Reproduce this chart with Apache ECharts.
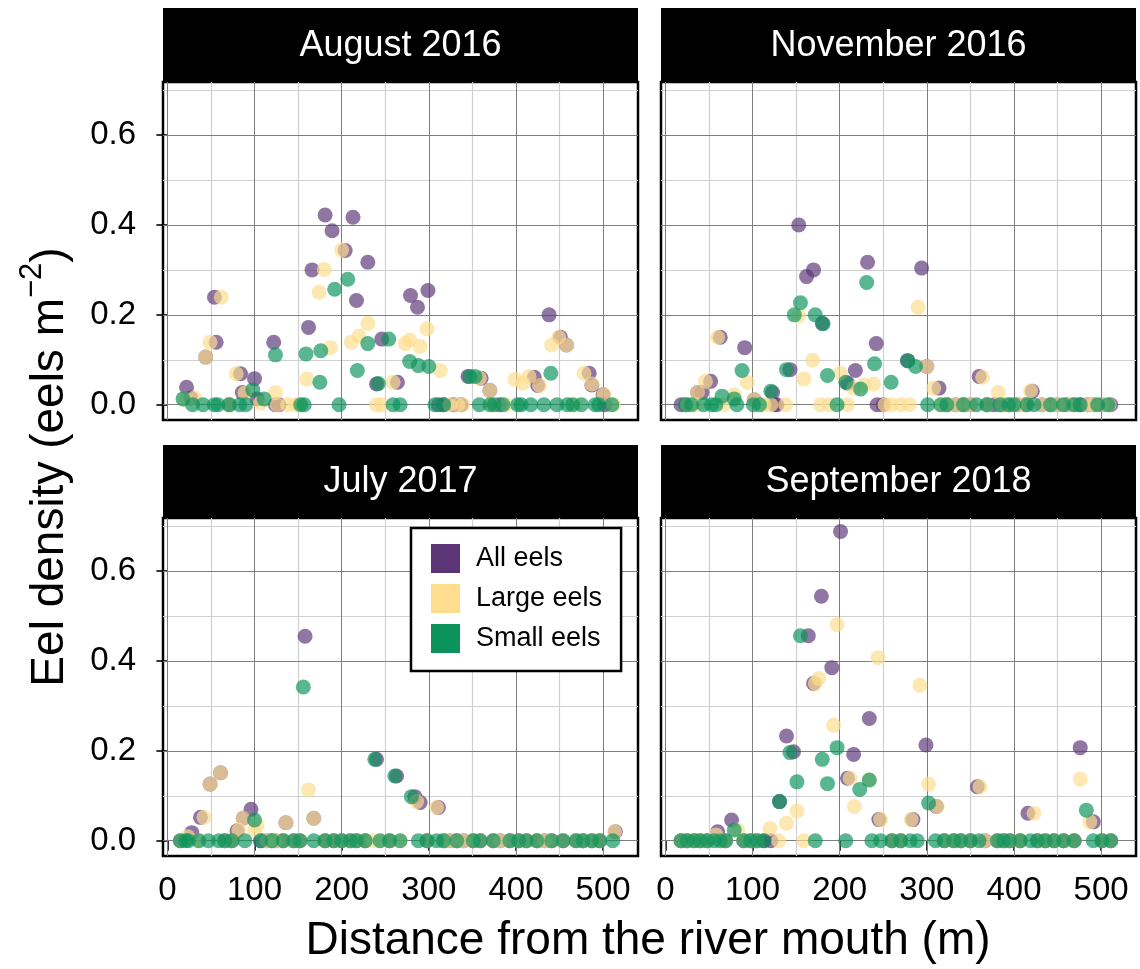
<!DOCTYPE html>
<html><head><meta charset="utf-8">
<script src="https://cdn.jsdelivr.net/npm/echarts@6/dist/echarts.min.js"></script>
<style>html,body{margin:0;padding:0;background:#fff}#c{width:1140px;height:969px}</style>
</head><body><div id="c"></div>
<script>
const panelTitles = ['August 2016', 'November 2016', 'July 2017', 'September 2018'];
const seriesNames = ['All eels', 'Large eels', 'Small eels'];
const xTicks = [0, 100, 200, 300, 400, 500];
const xMinorTicks = [50, 150, 250, 350, 450];
const yTicks = [0, 0.2, 0.4, 0.6];
const yTickLabels = ['0.0', '0.2', '0.4', '0.6'];
const yMinorTicks = [0.1, 0.3, 0.5, 0.7];
const xTitle = 'Distance from the river mouth (m)';

// [distance (m), density (eels m^-2)]
const aug16All = [[22,0.039],[27,0.015],[44,0.106],[54,0.239],[56,0.139],[71,0],[84,0.069],[86,0.027],[100,0.058],[103,0.013],[122,0.139],[124,0],[128,0],[162,0.172],[166,0.300],[181,0.422],[189,0.387],[204,0.343],[213,0.417],[217,0.232],[230,0.317],[240,0.046],[246,0.146],[264,0.050],[279,0.243],[287,0.217],[299,0.254],[311,0],[317,0],[328,0],[337,0],[345,0.063],[360,0.059],[370,0.032],[381,0],[421,0.061],[425,0.043],[438,0.200],[451,0.150],[458,0.133],[484,0.070],[487,0.044],[500,0.022],[502,0]];
const aug16Large = [[20,0.011],[31,0.015],[44,0.106],[49,0.139],[62,0.239],[71,0],[79,0.069],[89,0.026],[107,0.004],[124,0.027],[126,0],[138,0],[147,0],[151,0],[160,0.057],[174,0.250],[180,0.301],[187,0.127],[200,0.344],[211,0.139],[220,0.153],[230,0.181],[240,0],[246,0],[259,0.050],[273,0.136],[278,0.144],[290,0.130],[298,0.169],[313,0.076],[324,0],[333,0],[339,0],[358,0.059],[370,0.032],[373,0],[389,0],[399,0.056],[408,0.048],[415,0.063],[427,0.043],[441,0.133],[449,0.150],[458,0.133],[468,0],[478,0.070],[487,0.046],[501,0.022],[512,0]];
const aug16Small = [[18,0.013],[29,0],[41,0],[54,0],[58,0],[71,0],[83,0],[90,0],[98,0.033],[111,0.013],[124,0.111],[153,0],[157,0],[159,0.113],[175,0.050],[176,0.120],[192,0.257],[197,0],[207,0.279],[218,0.076],[230,0.136],[242,0.047],[254,0.146],[259,0],[267,0],[278,0.096],[288,0.087],[300,0.085],[307,0],[317,0],[347,0.063],[353,0.063],[358,0],[370,0],[375,0],[385,0],[402,0],[406,0],[417,0],[432,0],[440,0.070],[447,0],[459,0],[465,0],[475,0],[491,0],[495,0],[510,0]];

const nov16All = [[18,0],[24,0],[37,0.027],[42,0.027],[52,0.052],[63,0.150],[91,0.127],[102,0.011],[123,0.027],[125,0],[128,0],[143,0.078],[153,0.400],[162,0.285],[170,0.300],[180,0.181],[209,0.048],[218,0.076],[232,0.317],[242,0.136],[243,0],[250,0],[278,0.098],[294,0.304],[300,0.085],[314,0.037],[323,0],[333,0],[342,0],[350,0],[360,0.063],[369,0],[377,0],[386,0],[394,0],[404,0],[413,0],[421,0.030],[432,0],[442,0],[450,0],[461,0],[469,0],[476,0],[484,0],[491,0],[501,0],[511,0]];
const nov16Large = [[25,0],[36,0],[37,0.027],[46,0.052],[60,0.150],[67,0],[79,0.022],[94,0.050],[102,0.011],[113,0],[121,0],[138,0],[153,0.198],[159,0.057],[169,0.099],[178,0],[188,0],[201,0.070],[209,0],[216,0.037],[228,0.044],[239,0.046],[252,0],[259,0],[270,0],[280,0],[290,0.217],[300,0.085],[308,0.037],[316,0],[323,0],[333,0],[342,0],[350,0],[364,0.061],[369,0],[382,0.027],[386,0],[394,0],[404,0],[413,0],[419,0.031],[432,0],[442,0],[450,0],[461,0],[469,0],[484,0],[491,0],[501,0],[509,0]];
const nov16Small = [[23,0],[30,0],[44,0],[53,0],[58,0],[65,0.019],[79,0.013],[82,0],[88,0.076],[101,0],[108,0],[121,0.030],[139,0.078],[148,0.200],[155,0.227],[172,0.200],[181,0.180],[186,0.065],[197,0],[207,0.050],[224,0.035],[231,0.272],[240,0.091],[259,0.050],[278,0.098],[287,0.085],[301,0],[316,0],[323,0],[342,0],[357,0],[369,0],[384,0],[394,0],[400,0],[415,0],[423,0],[442,0],[457,0],[469,0],[476,0],[496,0],[508,0]];

const jul17All = [[15,0],[28,0.018],[38,0.052],[49,0.126],[61,0.151],[66,0],[74,0],[80,0.022],[87,0.050],[96,0.070],[107,0],[114,0],[120,0],[124,0],[133,0],[136,0.040],[145,0],[152,0],[158,0.455],[168,0.050],[181,0],[191,0],[200,0],[210,0],[217,0],[227,0],[240,0.181],[255,0],[263,0.144],[284,0.098],[290,0.085],[298,0],[311,0.074],[317,0],[324,0],[332,0],[340,0],[351,0],[359,0],[374,0],[382,0],[393,0],[403,0],[412,0],[424,0],[433,0],[441,0],[454,0],[469,0],[477,0],[487,0],[496,0],[514,0.020]];
const jul17Large = [[15,0],[23,0.009],[36,0],[42,0.052],[49,0.126],[61,0.151],[66,0],[74,0],[82,0.024],[87,0.050],[100,0.024],[103,0.035],[114,0],[120,0],[124,0],[133,0],[136,0.040],[145,0],[152,0],[162,0.113],[168,0.050],[181,0],[191,0],[200,0],[210,0],[217,0],[227,0],[236,0],[244,0],[255,0],[267,0],[286,0.087],[298,0],[309,0.074],[317,0],[324,0],[332,0],[340,0],[351,0],[359,0],[374,0],[382,0],[393,0],[403,0],[412,0],[424,0],[433,0],[441,0],[454,0],[469,0],[477,0],[487,0],[496,0],[513,0.020]];
const jul17Small = [[15,0],[21,0],[24,0],[36,0],[47,0],[59,0],[66,0],[74,0],[89,0],[100,0.046],[107,0],[120,0],[133,0],[145,0],[152,0],[156,0.342],[168,0],[181,0],[191,0],[200,0],[210,0],[217,0],[227,0],[238,0.181],[244,0],[255,0],[261,0.144],[267,0],[280,0.098],[288,0],[298,0],[309,0],[317,0],[332,0],[351,0],[359,0],[374,0],[393,0],[403,0],[412,0],[424,0],[441,0],[454,0],[469,0],[477,0],[487,0],[496,0],[511,0]];

const sep18All = [[18,0],[25,0],[33,0],[40,0],[48,0],[60,0.020],[69,0],[76,0.046],[90,0],[98,0],[105,0],[113,0],[121,0],[131,0.087],[139,0.233],[147,0.198],[164,0.456],[170,0.350],[179,0.544],[191,0.385],[201,0.688],[209,0.139],[216,0.192],[234,0.272],[245,0.047],[260,0],[270,0],[284,0.047],[299,0.213],[311,0.076],[320,0],[331,0],[339,0],[350,0],[358,0.120],[367,0],[381,0],[388,0],[395,0],[407,0],[416,0.061],[427,0],[436,0],[446,0],[457,0],[469,0],[476,0.207],[491,0.042],[501,0],[511,0]];
const sep18Large = [[18,0],[25,0],[33,0],[40,0],[48,0],[58,0.013],[63,0],[69,0],[83,0.024],[90,0],[98,0],[105,0],[120,0.027],[130,0],[139,0.039],[151,0.066],[159,0],[172,0.350],[176,0.361],[193,0.257],[197,0.481],[212,0.139],[217,0.076],[234,0.135],[244,0.407],[247,0.047],[260,0],[270,0],[282,0.047],[292,0.346],[302,0.126],[312,0.076],[320,0],[331,0],[339,0],[350,0],[361,0.120],[367,0],[381,0],[388,0],[395,0],[407,0],[423,0.061],[427,0],[436,0],[446,0],[457,0],[469,0],[476,0.137],[487,0.042],[501,0],[511,0]];
const sep18Small = [[18,0],[25,0],[33,0],[40,0],[48,0],[56,0],[63,0],[69,0],[79,0.024],[90,0],[98,0],[105,0],[113,0],[131,0.087],[143,0.196],[151,0.131],[155,0.456],[172,0],[180,0.181],[186,0.127],[197,0.207],[207,0],[223,0.114],[234,0.135],[237,0],[247,0],[260,0],[270,0],[281,0],[289,0],[302,0.084],[310,0],[320,0],[331,0],[339,0],[350,0],[360,0],[381,0],[388,0],[395,0],[407,0],[419,0],[427,0],[436,0],[446,0],[457,0],[469,0],[483,0.068],[491,0],[501,0],[511,0]];

const panelData = [
  [aug16All, aug16Large, aug16Small],
  [nov16All, nov16Large, nov16Small],
  [jul17All, jul17Large, jul17Small],
  [sep18All, sep18Large, sep18Small]
];

// ---- styling / layout ----
const FONT = '"Liberation Sans", Arial, Helvetica, sans-serif';
const colors = ['#5c3577', '#fedd8e', '#0b935b'];
const X_MIN = -5, X_MAX = 540, Y_MIN = -0.034, Y_MAX = 0.718;
const panels = [
  {left: 163, top: 82, w: 475, h: 338, bottom: false, leftAxis: true,  stripTop: 8},
  {left: 661, top: 82, w: 475, h: 338, bottom: false, leftAxis: false, stripTop: 8},
  {left: 163, top: 518, w: 475, h: 338, bottom: true, leftAxis: true,  stripTop: 445},
  {left: 661, top: 518, w: 475, h: 338, bottom: true, leftAxis: false, stripTop: 445}
];

const grids = [], xAxes = [], yAxes = [], series = [], graphics = [];
panels.forEach((p, i) => {
  grids.push({left: p.left, top: p.top, width: p.w, height: p.h, show: true,
    backgroundColor: '#fff', borderColor: '#000', borderWidth: 2.5, containLabel: false});
  xAxes.push({gridIndex: i, type: 'value', min: X_MIN, max: X_MAX,
    axisLine: {show: false}, splitLine: {show: false},
    axisTick: {show: p.bottom, length: 10, customValues: xTicks, lineStyle: {color: '#000', width: 1.6}},
    axisLabel: {show: p.bottom, customValues: xTicks, fontSize: 33, color: '#000', margin: 18, fontFamily: FONT}});
  yAxes.push({gridIndex: i, type: 'value', min: Y_MIN, max: Y_MAX,
    axisLine: {show: false}, splitLine: {show: false},
    axisTick: {show: p.leftAxis, length: 11, customValues: yTicks, lineStyle: {color: '#000', width: 1.6}},
    axisLabel: {show: p.leftAxis, customValues: yTicks, fontSize: 33, color: '#000', margin: 27, fontFamily: FONT,
      formatter: v => yTickLabels[yTicks.findIndex(t => Math.abs(t - v) < 1e-9)] ?? String(v)}});
  // grid lines through the axes' scales
  const gl = [];
  const major = {color: '#7e7e7e', width: 1};
  const minor = {color: '#d0d0d0', width: 1.2};
  xMinorTicks.forEach(x => gl.push({coords: [[x, Y_MIN], [x, Y_MAX]], lineStyle: minor}));
  yMinorTicks.forEach(y => gl.push({coords: [[X_MIN, y], [X_MAX, y]], lineStyle: minor}));
  xTicks.forEach(x => gl.push({coords: [[x, Y_MIN], [x, Y_MAX]], lineStyle: major}));
  yTicks.forEach(y => gl.push({coords: [[X_MIN, y], [X_MAX, y]], lineStyle: major}));
  series.push({type: 'lines', coordinateSystem: 'cartesian2d', xAxisIndex: i, yAxisIndex: i,
    polyline: false, silent: true, z: 1, animation: false, data: gl, lineStyle: {opacity: 1}});
  panelData[i].forEach((d, s) => {
    series.push({type: 'scatter', name: seriesNames[s], xAxisIndex: i, yAxisIndex: i, data: d,
      symbol: 'circle', symbolSize: 15, silent: true, z: 2 + s, animation: false,
      itemStyle: {color: colors[s], opacity: 0.68}, emphasis: {disabled: true}});
  });
  // facet strip
  graphics.push({type: 'rect', left: p.left, top: p.stripTop, silent: true,
    shape: {width: p.w, height: p.top - p.stripTop}, style: {fill: '#000'}});
  graphics.push({type: 'text', silent: true, x: p.left + p.w / 2, y: (p.stripTop + p.top) / 2 + 1,
    style: {text: panelTitles[i], fill: '#fff', font: '36px ' + FONT, textAlign: 'center', textVerticalAlign: 'middle'}});
});

graphics.push({type: 'text', silent: true, x: 648, y: 941,
  style: {text: xTitle, fill: '#000', font: '46px ' + FONT, textAlign: 'center', textVerticalAlign: 'middle'}});
graphics.push({type: 'text', silent: true, x: 45, y: 467, rotation: Math.PI / 2,
  style: {text: '{a|Eel density (eels m}{b|−2}{a|)}', textAlign: 'center', textVerticalAlign: 'middle',
    rich: {a: {fontSize: 46, fontFamily: FONT, fill: '#000', lineHeight: 56, verticalAlign: 'bottom'},
           b: {fontSize: 31, fontFamily: FONT, fill: '#000', lineHeight: 56, verticalAlign: 'top'}}}});

const option = {
  animation: false,
  textStyle: {fontFamily: FONT},
  grid: grids, xAxis: xAxes, yAxis: yAxes, series: series, graphic: graphics,
  legend: {data: seriesNames, orient: 'vertical', left: 411, top: 528, selectedMode: false,
    icon: 'rect', itemWidth: 29, itemHeight: 29, itemGap: 11, itemStyle: {opacity: 1},
    textStyle: {fontSize: 27, color: '#000', fontFamily: FONT, padding: [0, 0, 0, 11]},
    backgroundColor: '#fff', borderColor: '#000', borderWidth: 2.5, padding: [16, 19, 18, 20], z: 10}
};
const chart = echarts.init(document.getElementById('c'), null, {renderer: 'canvas'});
chart.setOption(option);
</script></body></html>
